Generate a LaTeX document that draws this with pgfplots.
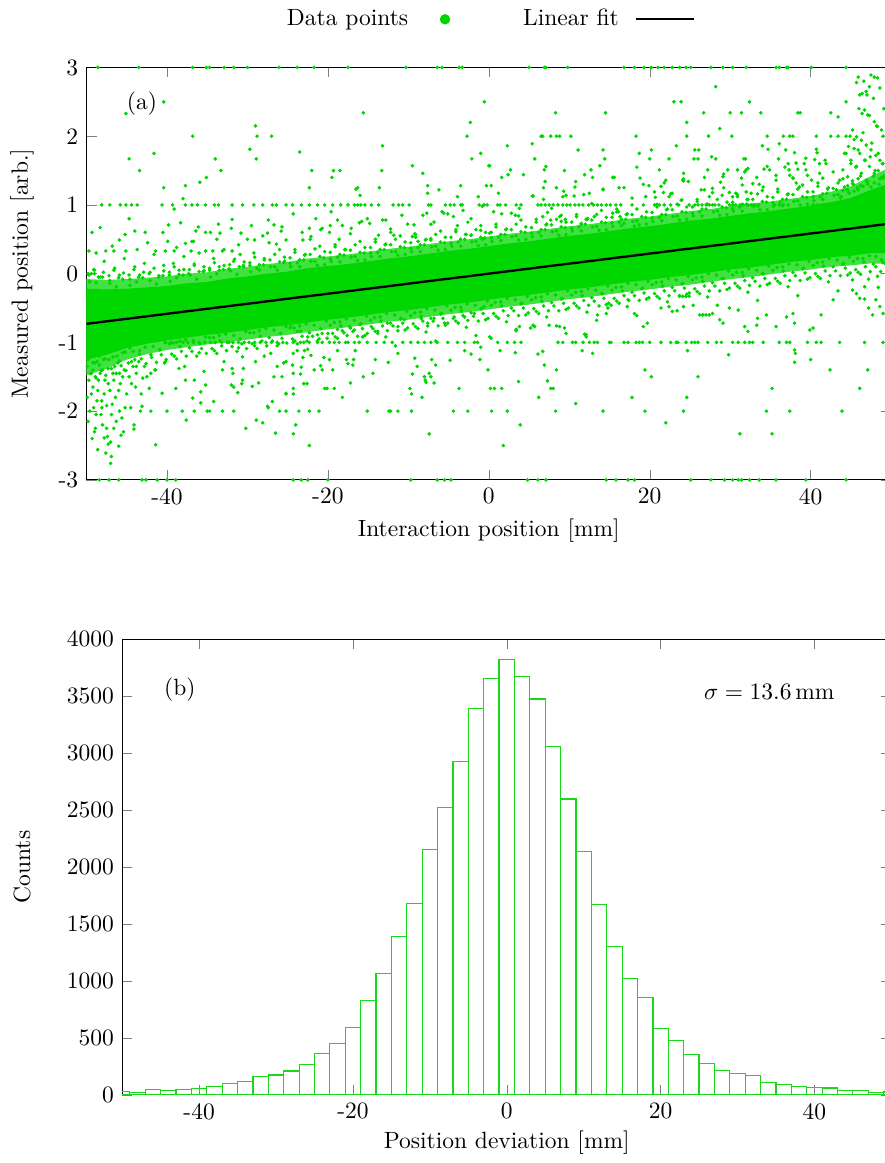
\documentclass[border=0pt]{standalone}
\usepackage{pgfplots}
\pgfplotsset{compat=1.18}
\definecolor{dgreen}{RGB}{0,215,0}
\definecolor{hgreen}{RGB}{25,215,25}
\pgfplotsset{dots/.style={only marks, mark=*, mark size=0.55pt, dgreen}}

\begin{document}
\begin{tikzpicture}
\path[use as bounding box] (0pt,0pt) rectangle (376.6pt,-494.9pt);

% ---------------- (a) scatter ----------------
\begin{axis}[
    at={(36.8pt,-204.2pt)}, anchor=south west,
    scale only axis, width=342.4pt, height=175.5pt,
    xmin=-50, xmax=50, ymin=-3, ymax=3,
    xtick={-40,-20,0,20,40}, xticklabels={-40,-20,0,20,40},
    ytick={-3,-2,-1,0,1,2,3}, yticklabels={-3,-2,-1,0,1,2,3},
    xlabel={Interaction position [mm]},
    ylabel={Measured position [arb.]},
    x label style={at={(axis description cs:0.5,-0.124)}, anchor=center},
    y label style={at={(axis description cs:-0.080,0.5)}, anchor=center},
    legend columns=2, legend plot pos=right,
    legend style={draw=none, fill=none, at={(0.234,1.165)}, anchor=north west,
        /tikz/every even column/.append style={column sep=25pt}},
]
% speckled halo around the cloud (partly covered by points)
\addplot[fill=dgreen!75, draw=none, forget plot] coordinates {
(-50,-0.08) (-47.5,-0.09) (-45,-0.08) (-42.5,-0.06) (-40,-0.04) (-37.5,0.00)
(-35,0.02) (-32.5,0.07) (-30,0.10) (-27.5,0.14) (-25,0.17) (-22.5,0.22)
(-20,0.25) (-17.5,0.28) (-15,0.32) (-12.5,0.36) (-10,0.39) (-7.5,0.43)
(-5,0.47) (-2.5,0.50) (0,0.54) (2.5,0.58) (5,0.61) (7.5,0.65) (10,0.69)
(12.5,0.72) (15,0.76) (17.5,0.80) (20,0.83) (22.5,0.87) (25,0.91) (27.5,0.94)
(30,0.98) (32.5,1.02) (35,1.05) (37.5,1.09) (40,1.13) (42.5,1.19) (45,1.27)
(47.5,1.42) (50,1.55)
(50,0.14) (47.5,0.15) (45,0.12) (42.5,0.10) (40,0.06) (37.5,0.03) (35,-0.01)
(32.5,-0.05) (30,-0.08) (27.5,-0.12) (25,-0.16) (22.5,-0.19) (20,-0.23)
(17.5,-0.26) (15,-0.30) (12.5,-0.34) (10,-0.37) (7.5,-0.41) (5,-0.45)
(2.5,-0.48) (0,-0.52) (-2.5,-0.56) (-5,-0.59) (-7.5,-0.63) (-10,-0.67)
(-12.5,-0.70) (-15,-0.74) (-17.5,-0.78) (-20,-0.81) (-22.5,-0.85) (-25,-0.89)
(-27.5,-0.92) (-30,-0.96) (-32.5,-1.00) (-35,-1.03) (-37.5,-1.07) (-40,-1.11)
(-42.5,-1.17) (-45,-1.25) (-47.5,-1.38) (-50,-1.48)
};
% dense core of the point cloud
\addplot[fill=dgreen, draw=none, forget plot] coordinates {
(-50,-0.22) (-47.5,-0.23) (-45,-0.22) (-42.5,-0.20) (-40,-0.18) (-37.5,-0.14)
(-35,-0.12) (-32.5,-0.07) (-30,-0.04) (-27.5,0.00) (-25,0.03) (-22.5,0.08)
(-20,0.11) (-17.5,0.14) (-15,0.18) (-12.5,0.22) (-10,0.25) (-7.5,0.29)
(-5,0.33) (-2.5,0.36) (0,0.40) (2.5,0.44) (5,0.47) (7.5,0.51) (10,0.55)
(12.5,0.58) (15,0.62) (17.5,0.66) (20,0.69) (22.5,0.73) (25,0.77) (27.5,0.80)
(30,0.84) (32.5,0.88) (35,0.91) (37.5,0.95) (40,0.99) (42.5,1.04) (45,1.10)
(47.5,1.22) (50,1.32)
(50,0.30) (47.5,0.30) (45,0.26) (42.5,0.24) (40,0.20) (37.5,0.17) (35,0.13)
(32.5,0.09) (30,0.06) (27.5,0.02) (25,-0.02) (22.5,-0.05) (20,-0.09)
(17.5,-0.12) (15,-0.16) (12.5,-0.20) (10,-0.23) (7.5,-0.27) (5,-0.31)
(2.5,-0.34) (0,-0.38) (-2.5,-0.42) (-5,-0.45) (-7.5,-0.49) (-10,-0.53)
(-12.5,-0.56) (-15,-0.60) (-17.5,-0.64) (-20,-0.67) (-22.5,-0.71) (-25,-0.75)
(-27.5,-0.78) (-30,-0.82) (-32.5,-0.86) (-35,-0.89) (-37.5,-0.93) (-40,-0.97)
(-42.5,-1.02) (-45,-1.08) (-47.5,-1.18) (-50,-1.25)
};
% points along the edges of the cloud
\addplot[dots,
    legend image code/.code={\path[draw=none] (0cm,0cm) (0.7cm,0cm);
        \fill[dgreen] (0.48cm,0cm) circle (2pt);}] coordinates {
(-49.6,-0.11) (-48.8,-0.13) (-48.0,-0.05) (-47.1,-0.14) (-46.3,-0.19) (-45.5,-0.08)
(-44.6,-0.17) (-43.8,-0.12) (-43.0,-0.06) (-42.1,-0.10) (-41.3,-0.15) (-40.5,-0.03)
(-39.6,-0.11) (-38.8,-0.06) (-38.0,-0.02) (-37.1,-0.02) (-36.3,-0.08) (-35.5,0.03)
(-34.6,-0.05) (-33.8,0.00) (-33.0,0.06) (-32.1,0.04) (-31.3,-0.01) (-30.5,0.10)
(-29.6,0.03) (-28.8,0.08) (-28.0,0.13) (-27.1,0.10) (-26.3,0.05) (-25.5,0.16)
(-24.6,0.10) (-23.8,0.16) (-23.0,0.20) (-22.1,0.18) (-21.3,0.12) (-20.5,0.23)
(-19.6,0.18) (-18.8,0.24) (-18.0,0.27) (-17.1,0.24) (-16.3,0.19) (-15.5,0.30)
(-14.6,0.25) (-13.8,0.31) (-13.0,0.35) (-12.1,0.32) (-11.3,0.27) (-10.5,0.38)
(-9.6,0.32) (-8.8,0.38) (-8.0,0.42) (-7.1,0.39) (-6.3,0.34) (-5.5,0.45)
(-4.6,0.40) (-3.8,0.46) (-3.0,0.50) (-2.1,0.46) (-1.3,0.41) (-0.5,0.52)
(0.4,0.47) (1.2,0.53) (2.0,0.57) (2.9,0.54) (3.7,0.49) (4.5,0.60)
(5.4,0.54) (6.2,0.60) (7.0,0.64) (7.9,0.61) (8.7,0.56) (9.5,0.67)
(10.4,0.62) (11.2,0.68) (12.0,0.72) (12.9,0.68) (13.7,0.63) (14.5,0.74)
(15.4,0.69) (16.2,0.75) (17.0,0.79) (17.9,0.76) (18.7,0.71) (19.5,0.82)
(20.4,0.76) (21.2,0.82) (22.0,0.86) (22.9,0.83) (23.7,0.78) (24.5,0.89)
(25.4,0.84) (26.2,0.90) (27.0,0.94) (27.9,0.90) (28.7,0.85) (29.5,0.96)
(30.4,0.91) (31.2,0.97) (32.0,1.01) (32.9,0.98) (33.7,0.93) (34.5,1.04)
(35.4,0.98) (36.2,1.04) (37.0,1.08) (37.9,1.05) (38.7,1.00) (39.5,1.11)
(40.4,1.06) (41.2,1.12) (42.0,1.17) (42.9,1.14) (43.7,1.10) (44.5,1.22)
(45.4,1.20) (46.2,1.28) (47.0,1.33) (47.9,1.32) (48.6,1.38) (49.1,1.42)
(-49.2,-1.29) (-48.4,-1.33) (-47.7,-1.24) (-46.7,-1.21) (-45.9,-1.27) (-45.2,-1.14)
(-44.2,-1.13) (-43.4,-1.17) (-42.7,-1.07) (-41.7,-1.06) (-40.9,-1.11) (-40.2,-1.00)
(-39.2,-1.01) (-38.4,-1.06) (-37.7,-0.96) (-36.7,-0.97) (-35.9,-1.02) (-35.2,-0.92)
(-34.2,-0.93) (-33.4,-0.98) (-32.7,-0.88) (-31.7,-0.90) (-30.9,-0.95) (-30.2,-0.84)
(-29.2,-0.86) (-28.4,-0.91) (-27.7,-0.80) (-26.7,-0.82) (-25.9,-0.87) (-25.2,-0.77)
(-24.2,-0.79) (-23.4,-0.84) (-22.7,-0.73) (-21.7,-0.75) (-20.9,-0.80) (-20.2,-0.69)
(-19.2,-0.71) (-18.4,-0.76) (-17.7,-0.66) (-16.7,-0.68) (-15.9,-0.73) (-15.2,-0.62)
(-14.2,-0.64) (-13.4,-0.69) (-12.7,-0.58) (-11.7,-0.60) (-10.9,-0.65) (-10.2,-0.55)
(-9.2,-0.57) (-8.4,-0.62) (-7.7,-0.51) (-6.7,-0.53) (-5.9,-0.58) (-5.2,-0.47)
(-4.2,-0.49) (-3.4,-0.54) (-2.7,-0.44) (-1.7,-0.46) (-0.9,-0.51) (-0.2,-0.40)
(0.8,-0.42) (1.6,-0.47) (2.3,-0.36) (3.3,-0.38) (4.1,-0.43) (4.8,-0.33)
(5.8,-0.35) (6.6,-0.40) (7.3,-0.29) (8.3,-0.31) (9.1,-0.36) (9.8,-0.25)
(10.8,-0.27) (11.6,-0.32) (12.3,-0.22) (13.3,-0.24) (14.1,-0.29) (14.8,-0.18)
(15.8,-0.20) (16.6,-0.25) (17.3,-0.14) (18.3,-0.16) (19.1,-0.21) (19.8,-0.11)
(20.8,-0.13) (21.6,-0.18) (22.3,-0.07) (23.3,-0.09) (24.1,-0.14) (24.8,-0.04)
(25.8,-0.06) (26.6,-0.11) (27.3,0.00) (28.3,-0.02) (29.1,-0.07) (29.8,0.04)
(30.8,0.02) (31.6,-0.03) (32.3,0.07) (33.3,0.05) (34.1,0.00) (34.8,0.11)
(35.8,0.09) (36.6,0.04) (37.3,0.14) (38.3,0.13) (39.1,0.08) (39.8,0.18)
(40.8,0.16) (41.6,0.11) (42.3,0.22) (43.3,0.20) (44.1,0.15) (44.8,0.24)
(45.8,0.22) (46.6,0.17) (47.3,0.26) (48.1,0.25) (48.8,0.20)
% second ring above
(-49.7,-0.02) (-49.1,0.06) (-48.5,-0.05) (-47.9,0.02) (-47.2,-0.03) (-46.6,0.05)
(-46.0,-0.06) (-45.4,0.01) (-44.7,-0.02) (-44.1,0.06) (-43.5,-0.05) (-42.9,0.02)
(-42.2,0.00) (-41.6,0.08) (-41.0,-0.03) (-40.4,0.04) (-39.7,0.02) (-39.1,0.10)
(-38.5,-0.01) (-37.9,0.06) (-37.2,0.06) (-36.6,0.14) (-36.0,0.03) (-35.4,0.10)
(-34.7,0.08) (-34.1,0.16) (-33.5,0.05) (-32.9,0.12) (-32.2,0.13) (-31.6,0.21)
(-31.0,0.10) (-30.4,0.17) (-29.7,0.16) (-29.1,0.24) (-28.5,0.13) (-27.9,0.20)
(-27.2,0.20) (-26.6,0.28) (-26.0,0.17) (-25.4,0.24) (-24.7,0.23) (-24.1,0.31)
(-23.5,0.20) (-22.9,0.27) (-22.2,0.28) (-21.6,0.36) (-21.0,0.25) (-20.4,0.32)
(-19.7,0.31) (-19.1,0.39) (-18.5,0.28) (-17.9,0.35) (-17.2,0.34) (-16.6,0.42)
(-16.0,0.31) (-15.4,0.38) (-14.7,0.38) (-14.1,0.46) (-13.5,0.35) (-12.9,0.42)
(-12.2,0.42) (-11.6,0.50) (-11.0,0.39) (-10.4,0.46) (-9.7,0.45) (-9.1,0.53)
(-8.5,0.42) (-7.9,0.49) (-7.2,0.49) (-6.6,0.57) (-6.0,0.46) (-5.4,0.53)
(-4.7,0.53) (-4.1,0.61) (-3.5,0.50) (-2.9,0.57) (-2.2,0.56) (-1.6,0.64)
(-1.0,0.53) (-0.4,0.60) (0.3,0.60) (0.9,0.68) (1.5,0.57) (2.1,0.64)
(2.8,0.64) (3.4,0.72) (4.0,0.61) (4.6,0.68) (5.3,0.67) (5.9,0.75)
(6.5,0.64) (7.1,0.71) (7.8,0.71) (8.4,0.79) (9.0,0.68) (9.6,0.75)
(10.3,0.75) (10.9,0.83) (11.5,0.72) (12.1,0.79) (12.8,0.78) (13.4,0.86)
(14.0,0.75) (14.6,0.82) (15.3,0.82) (15.9,0.90) (16.5,0.79) (17.1,0.86)
(17.8,0.86) (18.4,0.94) (19.0,0.83) (19.6,0.90) (20.3,0.89) (20.9,0.97)
(21.5,0.86) (22.1,0.93) (22.8,0.93) (23.4,1.01) (24.0,0.90) (24.6,0.97)
(25.3,0.97) (25.9,1.05) (26.5,0.94) (27.1,1.01) (27.8,1.00) (28.4,1.08)
(29.0,0.97) (29.6,1.04) (30.3,1.04) (30.9,1.12) (31.5,1.01) (32.1,1.08)
(32.8,1.08) (33.4,1.16) (34.0,1.05) (34.6,1.12) (35.3,1.11) (35.9,1.19)
(36.5,1.08) (37.1,1.15) (37.8,1.15) (38.4,1.23) (39.0,1.12) (39.6,1.19)
(40.3,1.19) (40.9,1.27) (41.5,1.16) (42.1,1.23) (42.8,1.24) (43.4,1.32)
(44.0,1.21) (44.6,1.28) (45.3,1.30) (45.9,1.38) (46.5,1.27) (47.1,1.34)
(47.8,1.42) (48.4,1.50) (49.0,1.39) (49.5,1.46)
% second ring below
(-49.4,-1.45) (-48.8,-1.52) (-48.2,-1.41) (-47.6,-1.48) (-46.9,-1.38) (-46.3,-1.45)
(-45.7,-1.34) (-45.1,-1.41) (-44.4,-1.28) (-43.8,-1.35) (-43.2,-1.24) (-42.6,-1.31)
(-41.9,-1.22) (-41.3,-1.29) (-40.7,-1.18) (-40.1,-1.25) (-39.4,-1.17) (-38.8,-1.24)
(-38.2,-1.13) (-37.6,-1.20) (-36.9,-1.13) (-36.3,-1.20) (-35.7,-1.09) (-35.1,-1.16)
(-34.4,-1.09) (-33.8,-1.16) (-33.2,-1.05) (-32.6,-1.12) (-31.9,-1.06) (-31.3,-1.13)
(-30.7,-1.02) (-30.1,-1.09) (-29.4,-1.02) (-28.8,-1.09) (-28.2,-0.98) (-27.6,-1.05)
(-26.9,-0.98) (-26.3,-1.05) (-25.7,-0.94) (-25.1,-1.01) (-24.4,-0.95) (-23.8,-1.02)
(-23.2,-0.91) (-22.6,-0.98) (-21.9,-0.91) (-21.3,-0.98) (-20.7,-0.87) (-20.1,-0.94)
(-19.4,-0.87) (-18.8,-0.94) (-18.2,-0.83) (-17.6,-0.90) (-16.9,-0.84) (-16.3,-0.91)
(-15.7,-0.80) (-15.1,-0.87) (-14.4,-0.80) (-13.8,-0.87) (-13.2,-0.76) (-12.6,-0.83)
(-11.9,-0.76) (-11.3,-0.83) (-10.7,-0.72) (-10.1,-0.79) (-9.4,-0.73) (-8.8,-0.80)
(-8.2,-0.69) (-7.6,-0.76) (-6.9,-0.69) (-6.3,-0.76) (-5.7,-0.65) (-5.1,-0.72)
(-4.4,-0.65) (-3.8,-0.72) (-3.2,-0.61) (-2.6,-0.68) (-1.9,-0.62) (-1.3,-0.69)
(-0.7,-0.58) (-0.1,-0.65) (0.6,-0.58) (1.2,-0.65) (1.8,-0.54) (2.4,-0.61)
(3.1,-0.54) (3.7,-0.61) (4.3,-0.50) (4.9,-0.57) (5.6,-0.51) (6.2,-0.58)
(6.8,-0.47) (7.4,-0.54) (8.1,-0.47) (8.7,-0.54) (9.3,-0.43) (9.9,-0.50)
(10.6,-0.43) (11.2,-0.50) (11.8,-0.39) (12.4,-0.46) (13.1,-0.40) (13.7,-0.47)
(14.3,-0.36) (14.9,-0.43) (15.6,-0.36) (16.2,-0.43) (16.8,-0.32) (17.4,-0.39)
(18.1,-0.32) (18.7,-0.39) (19.3,-0.28) (19.9,-0.35) (20.6,-0.29) (21.2,-0.36)
(21.8,-0.25) (22.4,-0.32) (23.1,-0.25) (23.7,-0.32) (24.3,-0.21) (24.9,-0.28)
(25.6,-0.22) (26.2,-0.29) (26.8,-0.18) (27.4,-0.25) (28.1,-0.18) (28.7,-0.25)
(29.3,-0.14) (29.9,-0.21) (30.6,-0.14) (31.2,-0.21) (31.8,-0.10) (32.4,-0.17)
(33.1,-0.11) (33.7,-0.18) (34.3,-0.07) (34.9,-0.14) (35.6,-0.07) (36.2,-0.14)
(36.8,-0.03) (37.4,-0.10) (38.1,-0.03) (38.7,-0.10) (39.3,0.01) (39.9,-0.06)
(40.6,0.00) (41.2,-0.07) (41.8,0.04) (42.4,-0.03) (43.1,0.04) (43.7,-0.03)
(44.3,0.08) (44.9,0.01) (45.6,0.06) (46.2,-0.01) (46.8,0.10) (47.4,0.03)
(48.1,0.10) (48.7,0.03) (49.3,0.14) (49.8,0.07)
% looser fringe above
(-49.6,-0.12) (-49.0,0.05) (-48.3,-0.05) (-47.8,0.18) (-47.1,-0.10) (-46.5,0.08)
(-45.9,-0.02) (-45.3,0.22) (-48.8,0.30) (-46.8,0.40) (-44.6,-0.08) (-44.0,0.10)
(-43.4,-0.02) (-42.8,0.15) (-42.1,0.02) (-41.6,0.28) (-41.0,-0.05) (-40.4,0.12)
(-43.7,0.35) (-42.4,0.45) (-39.7,-0.02) (-39.2,0.15) (-38.5,0.05) (-37.9,0.25)
(-37.3,0.00) (-36.6,0.12) (-36.0,0.30) (-35.4,0.04) (-38.8,0.38) (-36.9,0.47)
(-34.7,0.05) (-34.2,0.22) (-33.5,0.10) (-32.9,0.35) (-32.3,0.07) (-31.7,0.18)
(-31.1,0.42) (-30.5,0.12) (-33.8,0.50) (-30.9,0.28) (-29.7,0.12) (-29.2,0.30)
(-28.5,0.05) (-27.9,0.22) (-27.3,0.45) (-26.6,0.10) (-26.0,0.35) (-25.4,0.18)
(-28.1,0.55) (-25.8,0.62) (-24.7,0.15) (-24.1,0.35) (-23.5,0.10) (-22.8,0.28)
(-22.2,0.50) (-21.6,0.18) (-21.0,0.40) (-20.4,0.13) (-23.2,0.60) (-20.7,0.66)
(-19.7,0.22) (-19.1,0.42) (-18.5,0.17) (-17.8,0.35) (-17.2,0.58) (-16.6,0.25)
(-16.0,0.47) (-15.4,0.20) (-18.2,0.70) (-15.8,0.76) (-14.7,0.30) (-14.1,0.50)
(-13.5,0.25) (-12.8,0.43) (-12.2,0.65) (-11.6,0.32) (-11.0,0.55) (-10.4,0.28)
(-13.2,0.78) (-10.8,0.85) (-9.7,0.37) (-9.1,0.57) (-8.5,0.32) (-7.8,0.50)
(-7.2,0.72) (-6.6,0.40) (-6.0,0.62) (-5.4,0.35) (-8.2,0.85) (-5.8,0.90)
(-4.7,0.44) (-4.1,0.64) (-3.5,0.40) (-2.8,0.57) (-2.2,0.80) (-1.6,0.47)
(-1.0,0.70) (-0.4,0.42) (-3.2,0.92) (-0.8,0.98) (0.3,0.52) (0.9,0.72)
(1.5,0.48) (2.2,0.65) (2.8,0.88) (3.4,0.55) (4.0,0.78) (4.6,0.50)
(3.8,0.95) (5.3,0.59) (5.9,0.79) (6.5,0.55) (7.2,0.72) (7.8,0.95)
(8.4,0.62) (9.0,0.85) (9.6,0.57) (6.8,1.08) (9.2,1.12) (10.3,0.66)
(10.9,0.86) (11.5,0.62) (12.2,0.79) (12.8,1.02) (13.4,0.69) (14.0,0.92)
(14.6,0.64) (11.8,1.15) (14.2,1.22) (15.3,0.74) (15.9,0.94) (16.5,0.70)
(17.2,0.87) (17.8,1.10) (18.4,0.77) (19.6,0.72) (16.8,1.25) (19.2,1.30)
(20.3,0.81) (20.9,1.01) (21.5,0.77) (22.2,0.94) (22.8,1.17) (23.4,0.84)
(24.0,1.07) (24.6,0.79) (21.8,1.32) (24.2,1.38) (25.3,0.88) (25.9,1.08)
(26.5,0.84) (27.2,1.01) (27.8,1.24) (28.4,0.91) (29.0,1.14) (29.6,0.86)
(26.8,1.40) (29.2,1.45) (30.3,0.95) (30.9,1.15) (31.5,0.91) (32.2,1.08)
(32.8,1.31) (33.4,0.98) (34.0,1.21) (34.6,0.93) (31.8,1.48) (34.2,1.52)
(35.3,1.03) (35.9,1.23) (36.5,0.99) (37.2,1.16) (37.8,1.39) (38.4,1.06)
(39.0,1.29) (39.6,1.01) (36.8,1.55) (39.2,1.60) (40.3,1.12) (40.9,1.32)
(41.5,1.08) (42.2,1.25) (42.8,1.48) (43.4,1.15) (44.0,1.38) (44.6,1.20)
(41.8,1.65) (44.2,1.75)
% looser fringe below
(-44.6,-1.08) (-44.0,-1.25) (-43.4,-1.12) (-42.5,-1.50) (-42.0,-1.18) (-41.5,-1.40)
(-40.9,-1.10) (-40.3,-1.30) (-39.7,-1.02) (-39.1,-1.20) (-38.4,-0.98) (-37.8,-1.35)
(-37.2,-1.08) (-36.6,-1.55) (-36.0,-1.15) (-35.4,-1.42) (-35.8,-1.72) (-34.7,-0.93)
(-34.1,-1.12) (-33.5,-0.90) (-32.9,-1.28) (-32.3,-1.00) (-31.7,-1.65) (-31.1,-1.08)
(-30.5,-1.38) (-31.8,-1.45) (-30.7,-1.60) (-29.7,-0.86) (-29.1,-1.05) (-28.5,-0.83)
(-27.9,-1.20) (-27.3,-0.93) (-26.7,-1.50) (-26.1,-1.02) (-25.5,-1.30) (-27.4,-1.95)
(-25.2,-1.75) (-24.7,-0.79) (-24.1,-0.98) (-23.5,-0.76) (-22.9,-1.12) (-22.3,-0.86)
(-21.7,-1.40) (-21.1,-0.95) (-20.5,-1.22) (-24.3,-1.45) (-23.0,-1.60)
(-19.7,-0.75) (-19.1,-0.92) (-18.5,-0.70) (-17.8,-1.00) (-17.2,-0.79) (-16.6,-1.12)
(-16.0,-0.74) (-15.4,-0.90) (-14.7,-0.68) (-14.1,-0.84) (-13.5,-0.63) (-12.8,-0.92)
(-12.2,-0.72) (-11.6,-1.05) (-11.0,-0.66) (-10.4,-0.82) (-9.7,-0.61) (-9.1,-0.77)
(-8.5,-0.56) (-7.8,-0.85) (-7.2,-0.65) (-6.6,-0.98) (-6.0,-0.59) (-5.4,-0.75)
(-4.7,-0.53) (-4.1,-0.69) (-3.5,-0.49) (-2.8,-0.78) (-2.2,-0.57) (-1.6,-0.90)
(-1.0,-0.51) (-0.4,-0.67) (0.3,-0.46) (0.9,-0.62) (1.5,-0.41) (2.2,-0.70)
(2.8,-0.50) (3.4,-0.83) (4.0,-0.44) (4.6,-0.60) (5.3,-0.38) (5.9,-0.55)
(6.5,-0.34) (7.2,-0.63) (7.8,-0.42) (8.4,-0.76) (9.0,-0.37) (9.6,-0.52)
(10.3,-0.31) (10.9,-0.47) (11.5,-0.26) (12.2,-0.56) (12.8,-0.35) (13.4,-0.68)
(14.0,-0.29) (14.6,-0.45) (15.3,-0.24) (15.9,-0.40) (16.5,-0.19) (17.2,-0.48)
(17.8,-0.27) (18.4,-0.61) (19.0,-0.22) (19.6,-0.37) (20.3,-0.16) (20.9,-0.33)
(21.5,-0.12) (22.2,-0.41) (22.8,-0.20) (23.4,-0.54) (24.0,-0.15) (24.6,-0.30)
(25.3,-0.09) (25.9,-0.26) (26.5,-0.05) (27.2,-0.34) (27.8,-0.13) (28.4,-0.46)
(29.0,-0.07) (29.6,-0.23) (30.3,-0.02) (30.9,-0.18) (31.5,0.02) (32.2,-0.27)
(32.8,-0.06) (33.4,-0.39) (34.0,0.00) (34.6,-0.16) (35.3,0.05) (35.9,-0.11)
(36.5,0.10) (37.2,-0.19) (37.8,0.02) (38.4,-0.32) (39.0,0.07) (39.6,-0.08)
(40.3,0.12) (40.9,-0.04) (41.5,0.17) (42.2,-0.12) (42.8,0.10) (43.4,-0.25)
(44.0,0.14) (44.6,-0.02) (45.3,0.18) (45.9,0.02) (46.5,0.22) (47.2,-0.08)
(47.8,0.14) (48.4,-0.20) (49.0,0.16)
};
\addlegendentry{Data points}
% plume at the left end and spray at the right end
\addplot[dots, forget plot] coordinates {
(-49.8,-1.25) (-49.5,-1.45) (-49.2,-1.65) (-49.0,-1.30) (-48.7,-1.85) (-48.5,-1.55)
(-48.2,-2.05) (-48.0,-1.40) (-47.8,-1.75) (-47.5,-2.25) (-47.3,-1.60) (-47.0,-2.45)
(-46.8,-1.90) (-46.5,-1.35) (-46.3,-2.15) (-46.0,-1.70) (-45.7,-2.35) (-45.5,-1.50)
(-45.2,-1.95) (-49.6,-2.00) (-49.0,-2.30) (-48.6,-2.56) (-47.6,-2.61) (-47.0,-2.76)
(-46.9,-2.66) (-47.4,-2.37) (-47.8,-2.39) (-48.9,-2.25) (-46.0,-2.51) (-49.3,-1.10)
(-48.4,-1.20) (-47.2,-1.25) (-46.2,-1.20) (-45.5,-1.15) (-49.9,-1.80) (-48.1,-1.95)
(-46.6,-1.55) (-45.9,-1.45) (-44.8,-1.30) (-44.4,-1.60) (-44.1,-2.20) (-44.1,-2.26)
(-43.8,-1.45) (-43.2,-1.75) (-42.8,-1.35) (-49.9,-1.35) (-49.7,-1.55) (-49.5,-1.20)
(-49.4,-1.75) (-49.2,-1.40) (-49.1,-1.95) (-48.9,-1.50) (-48.7,-1.28) (-48.6,-1.70)
(-48.3,-1.45) (-48.1,-1.85) (-47.9,-1.25) (-47.7,-1.55) (-47.5,-1.92) (-47.3,-1.38)
(-47.1,-1.70) (-46.9,-2.05) (-46.7,-1.45) (-46.4,-1.80) (-46.1,-1.30) (-45.8,-1.60)
(-45.6,-2.10) (-45.3,-1.40) (-45.0,-1.75) (-44.7,-1.50) (-44.5,-1.95) (-44.2,-1.35)
(-43.9,-1.65) (-43.5,-1.28) (-43.0,-1.52) (-49.8,-2.15) (-49.3,-2.40) (-48.8,-2.05)
(-48.0,-2.20) (-47.3,-2.48) (-46.6,-2.25) (-45.9,-2.00) (-45.4,-2.30) (-41.4,-2.49)
(45.2,1.35) (45.6,1.55) (45.9,1.80) (46.2,1.42) (46.5,2.05) (46.8,1.65)
(47.1,1.30) (47.3,2.30) (47.6,1.90) (47.8,2.55) (48.0,1.50) (48.2,2.15)
(48.4,1.75) (48.6,2.70) (48.8,1.40) (49.0,2.00) (45.4,1.95) (46.0,2.40)
(46.6,2.80) (47.0,2.60) (48.3,2.85) (47.9,1.20) (48.9,1.60) (45.8,1.25)
(46.9,1.15) (49.1,2.40) (45.0,1.60) (44.7,1.85) (47.4,1.70) (48.5,1.30)
(45.9,2.86) (45.7,2.78) (47.5,2.89) (47.9,2.86) (47.3,2.72) (46.9,2.65)
(46.4,2.62) (46.1,2.60) (46.7,2.38) (46.4,2.33) (47.1,2.31) (47.9,2.21)
(48.3,2.14) (48.8,2.09) (45.2,2.09) (45.7,1.99) (46.3,1.94) (46.9,1.87)
(47.5,1.80) (48.1,1.72) (48.6,1.65) (49.0,1.60) (45.4,1.82) (46.1,1.75)
(46.7,1.65) (47.3,1.56) (47.9,1.46) (44.4,1.75) (45.0,1.65) (45.7,1.56)
(46.3,1.46) (46.9,1.36) (47.5,1.26) (48.1,1.19) (44.0,1.51) (44.6,1.41)
(45.2,1.31) (45.9,1.22) (43.6,1.36) (44.2,1.26) (44.8,1.17) (43.2,1.22)
(43.8,1.12)
};
% scattered outliers
\addplot[dots, forget plot] coordinates {
(-40.4,2.50) (-45.1,2.33) (-29.0,2.15) (-29.7,1.81) (-28.9,1.67) (-44.7,1.67)
(-41.6,1.75) (-43.4,1.50) (-34.0,1.67) (-33.3,1.50) (-35.1,1.40) (-35.9,1.33)
(-37.7,1.28) (-40.4,1.25) (-38.0,1.09) (-39.1,0.94) (-44.7,0.80) (-49.3,0.60)
(-48.3,0.67) (-45.9,0.49) (-45.2,0.57) (-44.0,0.62) (-42.7,0.60) (-40.5,0.60)
(-39.8,0.71) (-39.9,0.47) (-38.3,0.74) (-37.7,0.44) (-36.7,0.47) (-36.4,0.62)
(-36.1,0.68) (-35.2,0.60) (-34.6,0.60) (-33.6,0.72) (-33.4,0.59) (-31.9,0.79)
(-32.0,0.66) (-30.8,0.59) (-29.5,0.70) (-30.0,0.50) (-29.1,0.49) (-27.5,0.59)
(-27.4,0.78) (-26.7,0.71) (-26.4,0.43) (-25.7,0.68) (-25.2,0.49)
(-0.56,2.50) (-15.6,2.34) (-2.3,2.20) (-13.2,1.86) (-23.5,1.77) (-1.0,1.75)
(-2.1,1.67) (-22.0,1.50) (-19.3,1.50) (-18.5,1.50) (-19.5,1.40) (-13.3,1.50)
(-9.5,1.57) (-8.2,1.46) (0.0,1.57) (-22.3,1.25) (-16.5,1.23) (-16.3,1.25)
(-16.0,1.14) (-13.6,1.25) (-7.6,1.28) (-7.6,1.17) (-6.2,1.22) (-3.5,1.28)
(-1.3,1.12) (-3.9,1.12) (-0.3,1.28) (-19.6,0.90) (-21.5,0.80) (-18.8,0.78)
(-19.7,0.70) (-24.3,0.87) (-22.3,0.66) (-20.9,0.64) (-15.1,0.80) (-14.8,0.73)
(-16.1,0.74) (-12.8,0.78) (-10.1,0.72) (-9.3,0.71) (-7.7,0.88) (-6.8,0.75)
(-5.6,0.88) (-5.1,0.87) (-4.4,0.83) (-3.9,0.70) (-2.6,0.75) (-1.0,0.63)
(0.1,0.59) (-13.7,0.56) (-12.2,0.60) (-11.8,0.56) (-17.1,0.66) (-22.1,0.54)
(-23.1,0.49) (-19.8,0.60) (-18.6,0.50) (-9.5,0.54) (-9.2,0.58) (-8.8,0.47)
(-7.2,0.51) (-2.2,0.56) (-0.8,0.50)
(23.0,2.50) (23.9,2.50) (8.3,2.34) (14.5,2.34) (24.6,2.20) (5.4,1.89)
(2.3,1.86) (11.1,1.80) (14.2,1.80) (18.7,1.75) (20.2,1.80) (20.0,1.67)
(22.4,1.67) (23.3,1.86) (5.7,1.67) (14.4,1.67) (0.1,1.57) (2.7,1.51)
(2.4,1.44) (1.6,1.40) (4.3,1.44) (7.1,1.56) (6.9,1.51) (9.4,1.50)
(11.9,1.44) (12.7,1.51) (12.9,1.40) (13.8,1.57) (10.8,1.34) (10.7,1.26)
(15.4,1.40) (15.6,1.40) (16.2,1.25) (18.4,1.55) (18.8,1.39) (19.9,1.28)
(21.2,1.51) (22.0,1.36) (21.4,1.27) (22.4,1.12) (22.6,1.16) (24.2,1.46)
(24.8,1.34) (0.3,1.28) (1.2,1.17) (7.0,1.34) (6.8,1.25) (8.4,1.25)
(9.3,1.20) (9.6,1.14) (10.6,1.13) (12.5,1.17) (14.2,1.23) (5.4,1.13)
(5.5,1.13) (19.5,1.12) (20.6,1.19) (20.7,1.11) (21.7,1.18)
(0.6,0.90) (1.6,0.87) (3.3,0.85) (3.7,0.84) (6.7,0.83) (7.3,0.89)
(7.7,0.78) (8.8,0.83) (9.0,0.76) (9.5,0.79) (11.5,0.73) (12.3,0.80)
(13.1,0.83) (15.4,0.88) (16.1,0.90) (16.3,0.83) (16.8,0.73) (18.1,0.69)
(28.2,2.72) (32.4,2.50) (26.7,2.34) (30.0,2.34) (31.4,2.34)
(33.8,2.34) (38.4,2.34) (38.7,2.34) (42.5,2.34) (44.4,2.50) (43.4,2.28)
(28.7,2.11) (25.6,1.80) (26.1,1.80) (25.5,1.67) (26.0,1.67)
(27.7,1.70) (28.2,1.67) (31.7,1.67) (31.9,1.67) (34.0,1.86) (34.7,1.81)
(36.1,1.89) (36.9,1.80) (38.0,1.76) (40.7,1.81) (40.8,1.76) (36.0,1.67)
(37.2,1.60) (37.3,1.51) (38.2,1.61) (38.4,1.52) (39.4,1.68) (40.5,1.66)
(41.1,1.60) (41.9,1.60) (27.2,1.51) (29.7,1.51) (30.9,1.51) (32.0,1.51)
(32.2,1.53) (29.1,1.41) (28.8,1.33) (29.2,1.25) (24.2,1.35) (26.4,1.22)
(26.8,1.22) (31.4,1.39) (31.5,1.29) (33.3,1.40) (33.6,1.30) (34.1,1.26)
(34.6,1.56) (34.9,1.51) (35.7,1.43) (35.7,1.36) (37.4,1.43) (37.8,1.39)
(38.2,1.32) (38.6,1.26) (39.4,1.51) (39.6,1.43) (40.1,1.36) (41.1,1.46)
(41.5,1.39) (29.9,1.18) (30.3,1.12) (30.7,1.17) (32.0,1.19) (32.6,1.17)
(27.4,1.12) (27.8,1.18) (23.9,1.07) (24.1,1.36)
(-40.2,-1.28) (-42.0,-1.45) (-41.4,-1.40) (-38.5,-1.38) (-36.8,-1.81) (-35.8,-1.88)
(-34.2,-1.86) (-32.0,-1.62) (-31.2,-1.73) (-29.4,-1.64) (-28.6,-1.59) (-27.5,-1.93)
(-26.9,-1.86) (-33.1,-1.40) (-30.6,-1.21) (-29.0,-1.28) (-27.1,-1.16) (-25.7,-1.50)
(-25.2,-1.74) (-42.2,-1.67) (-40.6,-1.74) (-38.9,-1.67) (-43.1,-1.93) (-37.7,-1.55)
(-35.2,-1.62) (-31.9,-1.38) (-30.6,-1.55) (-26.3,-1.35) (-25.2,-1.28)
(-37.6,-2.13) (-30.2,-2.25) (-28.9,-2.13) (-28.1,-2.17) (-26.5,-2.32)
(-24.3,-1.16) (-23.8,-1.12) (-23.1,-1.22) (-22.5,-1.10) (-22.1,-1.19) (-24.4,-1.33)
(-23.3,-1.36) (-22.6,-1.60) (-23.4,-1.46) (-24.3,-1.67) (-24.3,-1.75) (-24.0,-2.20)
(-24.3,-2.33) (-22.3,-2.50) (-20.9,-1.34) (-20.7,-1.40) (-19.4,-1.40) (-20.4,-1.67)
(-20.1,-1.67) (-19.2,-1.67) (-18.2,-1.80) (-19.8,-1.25) (-18.8,-1.12) (-17.7,-1.25)
(-17.5,-1.31) (-16.8,-1.25) (-16.9,-1.33) (-17.2,-1.59) (-15.6,-1.50) (-14.4,-1.45)
(-14.1,-1.25) (-12.5,-1.29) (-11.3,-1.16) (-9.8,-1.67) (-9.6,-1.75) (-9.5,-1.46)
(-8.9,-1.35) (-9.2,-1.23) (-8.3,-1.80) (-8.0,-1.50) (-7.9,-1.55) (-7.8,-1.58)
(-7.4,-1.45) (-7.2,-1.50) (-6.8,-1.59) (-7.4,-2.33) (-7.1,-1.25) (-6.6,-1.33)
(-4.8,-1.26) (-3.7,-1.67) (-3.0,-1.12) (-2.2,-1.17) (-1.1,-1.25) (-1.0,-1.07)
(-24.6,-0.77) (-23.8,-0.84) (-22.5,-0.92) (-21.3,-0.89) (-20.0,-0.87) (-18.8,-0.81)
(-18.0,-0.86) (-17.3,-0.77) (-16.7,-0.82) (-15.7,-0.92) (-14.6,-0.77) (-13.8,-0.84)
(-12.6,-0.72) (-11.3,-0.77) (-10.5,-0.67) (-8.4,-0.65) (-7.6,-0.72) (-6.8,-0.65)
(-5.5,-0.72) (-4.3,-0.63) (-3.0,-0.63) (-1.8,-0.58) (-0.6,-0.48)
(0.1,-0.92) (0.3,-0.94) (1.4,-1.12) (3.3,-1.15) (6.1,-1.17) (6.7,-1.13)
(11.6,-1.12) (12.9,-1.16) (11.9,-0.88) (12.1,-0.92) (-0.1,-1.40) (6.9,-1.33)
(8.4,-1.40) (7.3,-1.56) (7.7,-1.67) (8.0,-1.67) (3.7,-1.57) (0.2,-1.67)
(0.7,-1.67) (1.6,-1.67) (6.2,-1.80) (10.8,-1.89) (3.9,-2.20) (1.8,-2.50)
(17.8,-1.80) (19.4,-1.40) (20.2,-1.50) (22.0,-2.17) (24.6,-1.80) (24.7,-1.12)
(3.4,-0.81) (3.8,-0.77) (5.2,-0.79) (5.5,-0.75) (5.7,-0.77) (7.5,-0.75)
(8.8,-0.77) (9.6,-0.87) (9.4,-0.79) (12.1,-0.89) (13.5,-0.60) (14.6,-0.58)
(14.8,-0.50) (15.2,-0.46) (17.3,-0.38) (18.1,-0.58) (19.2,-0.77) (19.7,-0.72)
(21.4,-0.50) (22.4,-0.48) (22.8,-0.55)
(29.8,-1.18) (38.0,-1.11) (38.1,-1.16) (38.0,-1.29) (40.0,-1.25)
(26.0,-1.50) (35.2,-1.67) (31.2,-2.33) (35.2,-2.33) (42.4,-1.40)
(46.1,-1.67) (47.1,-1.40) (45.2,-0.24) (45.7,-0.29) (46.1,-0.36) (46.7,-0.37)
(47.2,-0.50) (47.7,-0.60) (48.6,-0.48) (49.0,-0.58) (48.1,-0.38)
(32.2,-0.84) (31.8,-0.77) (33.3,-0.75) (33.4,-0.65) (35.7,-0.77) (37.0,-0.63)
(37.8,-0.58) (38.0,-0.72) (39.9,-0.82) (40.3,-0.79) (41.3,-0.60) (34.5,-0.60)
(28.7,-0.67) (29.1,-0.72) (29.9,-0.50) (31.0,-0.53) (26.6,-0.60) (27.8,-0.58)
(24.2,-0.48) (25.4,-0.46) (42.8,-0.38) (45.2,-0.09) (46.7,-0.19) (48.3,-0.04)
};
% quantised rows of points
\addplot[dots, forget plot] coordinates {
(-48.1,1) (-47.1,1) (-45.8,1) (-45.1,1) (-44.4,1) (-43.7,1) (-40.6,1) (-39.3,1)
(-37.7,1) (-36.9,1) (-36.2,1) (-35.2,1) (-34.1,1) (-33.6,1) (-31.9,1) (-30.6,1)
(-29.2,1) (-28.1,1) (-26.9,1) (-26.4,1) (-25.2,1) (-24.4,1) (-23.3,1) (-22.3,1)
(-21.3,1) (-20.4,1) (-19.4,1) (-18.4,1) (-17.5,1) (-16.7,1) (-16.3,1) (-15.9,1)
(-15.4,1) (-14.6,1) (-13.7,1) (-11.9,1) (-11.2,1) (-10.7,1) (-9.9,1) (-7.5,1)
(-7.2,1) (-5.4,1) (-4.8,1) (-4.3,1) (-3.5,1) (-3.3,1) (-1.2,1) (-0.6,1) (-0.2,1)
(1.1,1) (1.4,1) (2.1,1) (3.4,1) (4.0,1) (6.1,1) (6.5,1) (7.0,1) (7.5,1) (8.0,1)
(8.6,1) (9.2,1) (9.7,1) (10.1,1) (10.7,1) (11.2,1) (11.7,1) (12.4,1) (13.0,1)
(13.5,1) (14.0,1) (14.6,1) (15.1,1) (15.8,1) (16.4,1) (17.8,1) (19.2,1) (20.6,1)
(21.2,1) (21.8,1) (22.6,1) (23.6,1) (24.9,1) (25.6,1) (26.0,1) (26.5,1) (27.0,1)
(27.4,1) (28.1,1) (28.6,1) (29.9,1) (30.3,1) (30.7,1) (31.2,1) (31.6,1) (32.2,1)
(32.6,1) (33.0,1) (33.5,1) (35.5,1) (36.1,1) (36.6,1) (37.2,1) (40.3,1) (40.8,1)
(41.5,1)
(-40.2,-1) (-39.5,-1) (-38.8,-1) (-38.0,-1) (-37.4,-1) (-36.7,-1) (-36.0,-1)
(-35.3,-1) (-34.6,-1) (-34.0,-1) (-33.2,-1) (-32.5,-1) (-31.8,-1) (-31.1,-1)
(-30.4,-1) (-29.8,-1) (-29.1,-1) (-28.4,-1) (-27.7,-1) (-27.0,-1) (-26.3,-1)
(-25.6,-1) (-24.3,-1) (-23.4,-1) (-23.0,-1) (-22.3,-1) (-21.3,-1) (-20.7,-1)
(-19.8,-1) (-19.2,-1) (-18.6,-1) (-17.5,-1) (-16.7,-1) (-16.1,-1) (-15.1,-1)
(-14.0,-1) (-13.0,-1) (-12.0,-1) (-10.7,-1) (-9.7,-1) (-8.8,-1) (-8.0,-1)
(-7.2,-1) (-6.4,-1) (-5.1,-1) (-3.9,-1) (-3.0,-1) (-1.8,-1) (-1.4,-1) (1.1,-1)
(2.3,-1) (3.2,-1) (4.0,-1) (8.6,-1) (9.2,-1) (10.4,-1) (10.8,-1) (11.7,-1)
(12.5,-1) (13.1,-1) (13.5,-1) (15.0,-1) (15.2,-1) (16.8,-1) (17.3,-1) (18.3,-1)
(18.7,-1) (19.1,-1) (20.0,-1) (21.4,-1) (22.6,-1) (23.3,-1) (23.5,-1) (24.5,-1)
(25.2,-1) (25.6,-1) (26.0,-1) (27.2,-1) (28.3,-1) (28.9,-1) (30.3,-1) (31.0,-1)
(31.8,-1) (32.4,-1) (32.8,-1) (34.1,-1) (36.1,-1) (37.0,-1) (37.4,-1) (39.6,-1)
(40.7,-1) (41.3,-1) (43.6,-1) (46.7,-1) (49.0,-1)
(-36.8,2) (-28.8,2) (-27.0,2) (-2.7,2) (6.5,2) (6.7,2) (7.7,2) (8.4,2) (8.8,2)
(10.2,2) (18.3,2) (24.6,2) (27.3,2) (30.2,2) (34.6,2) (36.6,2) (37.4,2) (37.8,2)
(40.7,2) (42.5,2) (43.4,2) (44.4,2) (44.9,2)
(-43.3,-2) (-42.0,-2) (-40.0,-2) (-38.1,-2) (-36.6,-2) (-35.0,-2) (-34.7,-2)
(-33.1,-2) (-31.7,-2) (-26.0,-2) (-25.2,-2) (-23.6,-2) (-22.3,-2) (-21.1,-2)
(-15.1,-2) (-12.4,-2) (-12.2,-2) (-11.3,-2) (-9.6,-2) (-4.4,-2) (-2.6,-2)
(0.35,-2) (2.3,-2) (8.3,-2) (14.2,-2) (19.4,-2) (24.2,-2) (34.5,-2) (37.4,-2)
(43.9,-2)
(-48.6,3) (-43.5,3) (-36.8,3) (-35.1,3) (-34.7,3) (-32.9,3) (-31.7,3) (-30.0,3)
(-26.1,3) (-23.8,3) (-21.7,3) (-17.5,3) (-10.3,3) (-6.4,3) (-5.8,3) (-3.7,3)
(-3.3,3) (5.0,3) (6.9,3) (7.1,3) (9.8,3) (16.8,3) (18.1,3) (19.3,3) (20.2,3)
(21.0,3) (21.8,3) (22.8,3) (23.7,3) (24.5,3) (25.1,3) (27.6,3) (29.1,3) (30.3,3)
(32.0,3) (35.7,3) (36.1,3) (37.0,3) (37.2,3) (40.1,3) (44.4,3)
(-48.4,-3) (-47.2,-3) (-46.0,-3) (-43.1,-3) (-42.6,-3) (-41.2,-3) (-40.0,-3)
(-38.9,-3) (-24.3,-3) (-23.3,-3) (-22.5,-3) (-20.0,-3) (-9.7,-3) (-6.4,-3)
(-5.5,-3) (-4.7,-3) (4.8,-3) (6.1,-3) (7.1,-3) (14.6,-3) (15.8,-3) (17.3,-3)
(18.1,-3) (25.1,-3) (27.6,-3) (29.3,-3) (30.3,-3) (31.0,-3) (31.4,-3) (32.4,-3)
(33.6,-3) (35.7,-3) (39.4,-3) (44.4,-3)
(-49.7,0.33) (-47.6,0.33) (-46.6,0.33) (-45.1,0.33) (-41.4,0.33) (-40.2,0.33)
(-39.1,0.33) (-37.0,0.33) (-35.2,0.33) (-34.3,0.33) (-33.1,0.33) (-31.9,0.33)
(23.7,-0.33) (24.1,-0.33) (24.5,-0.33) (24.9,-0.33)
(26.2,-0.60) (26.6,-0.60) (27.0,-0.60) (27.4,-0.60)
(-49.8,0) (-49.4,0) (-49.0,0)
};
\addplot[black, line width=1pt,
    legend image code/.code={\path[draw=none] (0cm,0cm);
        \draw[black, line width=1pt] (0.18cm,0cm) -- (1.05cm,0cm);}]
    coordinates {(-50,-0.73) (50,0.73)};
\addlegendentry{Linear fit}
\node at (axis cs:-43.1,2.47) {(a)};
\end{axis}

% ---------------- (b) histogram ----------------
\begin{axis}[
    at={(52.0pt,-465.9pt)}, anchor=south west,
    scale only axis, width=327.3pt, height=194.0pt,
    xmin=-50, xmax=50, ymin=0, ymax=4000,
    xtick={-40,-20,0,20,40}, xticklabels={-40,-20,0,20,40},
    ytick={0,500,1000,1500,2000,2500,3000,3500,4000},
    yticklabels={0,500,1000,1500,2000,2500,3000,3500,4000},
    xlabel={Position deviation [mm]},
    ylabel={Counts},
    x label style={at={(axis description cs:0.5,-0.105)}, anchor=center},
    y label style={at={(axis description cs:-0.130,0.5)}, anchor=center},
]
\addplot[ybar interval, draw=hgreen, fill=none, line width=0.5pt] coordinates {
(-51,29) (-49,23) (-47,47) (-45,38) (-43,47) (-41,58) (-39,73) (-37,102)
(-35,114) (-33,161) (-31,175) (-29,210) (-27,266) (-25,365) (-23,450)
(-21,591) (-19,830) (-17,1067) (-15,1392) (-13,1681) (-11,2152) (-9,2520)
(-7,2924) (-5,3392) (-3,3652) (-1,3819) (1,3670) (3,3474) (5,3056) (7,2596)
(9,2137) (11,1667) (13,1304) (15,1023) (17,857) (19,585) (21,477) (23,357)
(25,275) (27,211) (29,184) (31,170) (33,111) (35,94) (37,76) (39,67) (41,61)
(43,38) (45,38) (47,23) (49,25) (51,0)
};
\node[anchor=east] at (axis cs:43.7,3535) {$\sigma = 13.6\,\mathrm{mm}$};
\node at (axis cs:-42.5,3553) {(b)};
\end{axis}
\end{tikzpicture}
\end{document}
